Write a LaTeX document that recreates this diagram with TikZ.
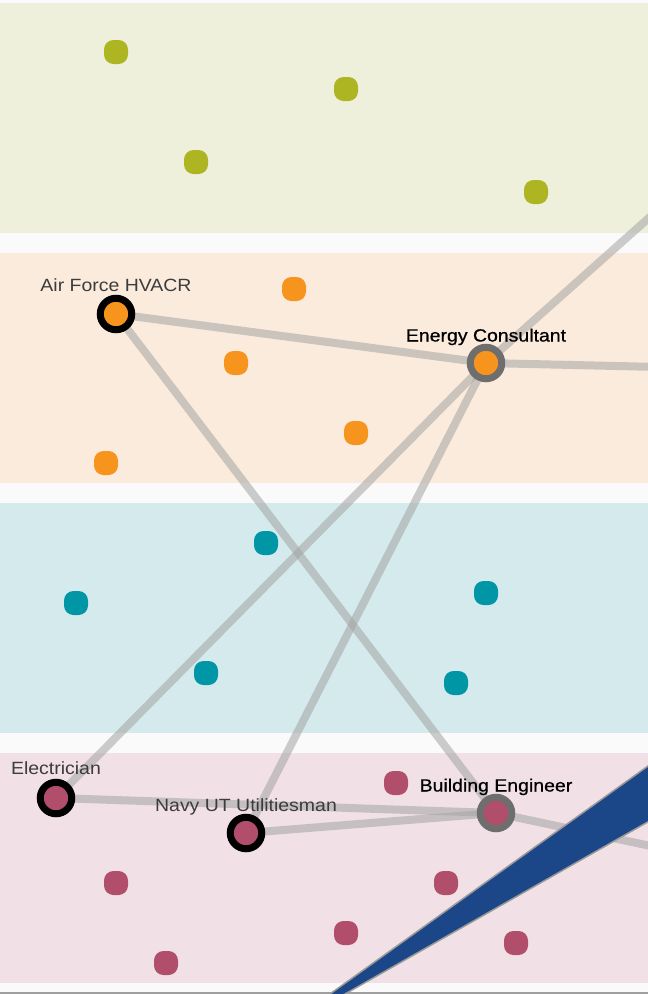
\documentclass[tikz,border=0pt]{standalone}
\usepackage{fontspec}
\newfontfamily\lblfont[FakeStretch=1.1]{Liberation Sans}
\newfontfamily\lblboldfont[FakeStretch=1.1,FakeBold=0.7]{Liberation Sans}
\definecolor{canvasbg}{HTML}{FAFAFA}
\definecolor{bandgreen}{HTML}{EEF0DC}
\definecolor{bandorange}{HTML}{FBEBDC}
\definecolor{bandteal}{HTML}{D5EAEC}
\definecolor{bandpink}{HTML}{F1E0E5}
\definecolor{dotgreen}{HTML}{AEB522}
\definecolor{dotorange}{HTML}{F7941D}
\definecolor{dotteal}{HTML}{0096A6}
\definecolor{dotpink}{HTML}{B04E6B}
\definecolor{edgegray}{HTML}{A4A4A4}
\definecolor{ringgray}{HTML}{6E6E6E}
\definecolor{wedgeblue}{HTML}{1B4688}
\definecolor{labeldark}{HTML}{3C3C3C}
\pgfdeclarelayer{bands}
\pgfdeclarelayer{edges}
\pgfsetlayers{bands,edges,main}
\tikzset{
  dot/.style={rectangle, rounded corners=9.5pt, minimum size=24pt, inner sep=0pt, draw=none},
  hub/.style={circle, minimum size=31.5pt, inner sep=0pt, line width=7pt, draw=black},
  hubsel/.style={hub, draw=ringgray},
  link/.style={draw=edgegray, line width=8pt, opacity=0.55},
  lbl/.style={anchor=base, inner sep=0pt, text=labeldark, font=\lblfont\fontsize{17.7}{20}\selectfont},
  lblsel/.style={anchor=base, inner sep=0pt, text=black, font=\lblboldfont\fontsize{17.7}{20}\selectfont},
  band/.style={draw=none}
}
\begin{document}
\begin{tikzpicture}[x=1pt,y=-1pt]
\useasboundingbox (0,0) rectangle (648,994);
\clip (0,0) rectangle (648,994);
\begin{pgfonlayer}{bands}
\fill[canvasbg] (0,0) rectangle (648,994);
\fill[bandgreen] (0,3) rectangle (648,233);
\fill[bandorange] (0,253) rectangle (648,483);
\fill[bandteal] (0,503) rectangle (648,733);
\fill[bandpink] (0,753) rectangle (648,983);
\draw[draw=gray!75, line width=1.5pt] (0,993) -- (648,993);
\end{pgfonlayer}

% green dots
\node[dot, fill=dotgreen] (g1) at (116,52) {};
\node[dot, fill=dotgreen] (g2) at (346,89) {};
\node[dot, fill=dotgreen] (g3) at (196,162) {};
\node[dot, fill=dotgreen] (g4) at (536,192) {};
% orange dots
\node[dot, fill=dotorange] (o1) at (294,289) {};
\node[dot, fill=dotorange] (o2) at (236,363) {};
\node[dot, fill=dotorange] (o3) at (356,433) {};
\node[dot, fill=dotorange] (o4) at (106,463) {};
% teal dots
\node[dot, fill=dotteal] (t1) at (266,543) {};
\node[dot, fill=dotteal] (t2) at (76,603) {};
\node[dot, fill=dotteal] (t3) at (486,593) {};
\node[dot, fill=dotteal] (t4) at (206,673) {};
\node[dot, fill=dotteal] (t5) at (456,683) {};
% pink dots
\node[dot, fill=dotpink] (p1) at (396,783) {};
\node[dot, fill=dotpink] (p2) at (116,883) {};
\node[dot, fill=dotpink] (p3) at (446,883) {};
\node[dot, fill=dotpink] (p4) at (346,933) {};
\node[dot, fill=dotpink] (p5) at (166,963) {};
\node[dot, fill=dotpink] (p6) at (516,943) {};

% highlighted nodes
\node[hub, fill=dotorange] (af) at (116,314) {};
\node[hubsel, fill=dotorange] (ec) at (486,363) {};
\node[hub, fill=dotpink] (el) at (56,798) {};
\node[hub, fill=dotpink] (nv) at (246,833) {};
\node[hubsel, fill=dotpink] (be) at (496,813) {};

% labels
\node[lbl] (afl) at (116,291) {Air Force HVACR};
\node[lblsel] (ecl) at (486,341.5) {Energy Consultant};
\node[lbl] (ell) at (56,774.5) {Electrician};
\node[lbl] (nvl) at (246,811) {Navy UT Utilitiesman};
\node[lblsel] (bel) at (496,791.5) {Building Engineer};

% off-canvas ends
\coordinate (r1) at (660,367);
\coordinate (r2) at (660,208);
\coordinate (r3) at (660,848);

\begin{pgfonlayer}{edges}
\draw[link] (af.center) -- (ec.center);
\draw[link] (af.center) -- (be.center);
\draw[link] (ec.center) -- (r1);
\draw[link] (ec.center) -- (r2);
\draw[link] (ec.center) -- (el.center);
\draw[link] (ec.center) -- (nv.center);
\draw[link] (el.center) -- (be.center);
\draw[link] (nv.center) -- (be.center);
\draw[link] (be.center) -- (r3);
\end{pgfonlayer}

% blue wedge
\filldraw[fill=wedgeblue, draw=gray!80, line width=1.5pt, line join=miter]
  (321.6,1000) -- (660,757.4) -- (660,815) -- (334.4,1000) -- cycle;
\end{tikzpicture}
\end{document}
